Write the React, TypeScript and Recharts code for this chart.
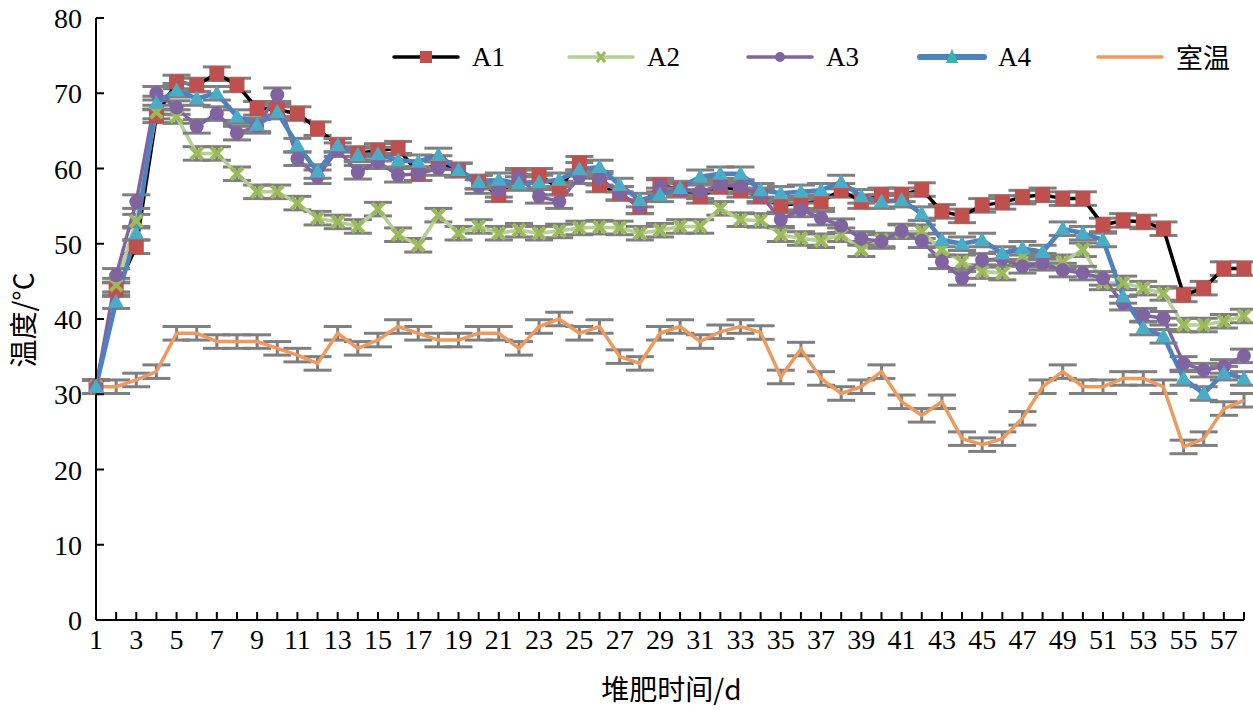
import React from "react";
import { LineChart, Line, XAxis, YAxis, ErrorBar } from "recharts";

// composting days
const days = Array.from({ length: 58 }, (_, i) => i + 1);

const a1 = [
  31, 43.9, 49.6, 67, 71.5, 71.1, 72.6, 71.1, 68, 67.8, 67.3, 65.3, 63.1, 62, 62.4, 62.7, 59.3, 60.8, 59.8, 58.2,
  56.5, 59.1, 59.1, 57.4, 60.7, 57.8, 56.7, 54.9, 57.8, 57.2, 56.3, 57.6, 57.1, 56.3, 55.1, 55.4, 55.6, 57.1, 55.6, 56.5,
  56.5, 57.2, 54.3, 53.7, 55.1, 55.5, 56.2, 56.5, 56.0, 56.0, 52.5, 53.1, 52.9, 52.0, 43.2, 44.1, 46.7, 46.7,
];
const a2 = [
  31, 44.5, 53, 67.5, 66.9, 62, 62, 59.3, 56.9, 56.9, 55.4, 53.4, 52.9, 52.3, 54.6, 51.2, 49.8, 53.8, 51.4, 52.3,
  51.4, 51.8, 51.4, 51.7, 52.1, 52.2, 52.1, 51.4, 51.8, 52.3, 52.3, 54.7, 53.2, 53.1, 51.2, 50.7, 50.4, 51.2, 49.2, 50.5,
  51.6, 51.6, 49.2, 47.6, 46.3, 46.1, 48.3, 47.8, 47.6, 49.2, 44.8, 44.8, 44.1, 43.4, 39.2, 39.2, 39.7, 40.4,
];
const a3 = [
  31, 45.8, 55.6, 70, 68.1, 65.6, 67.3, 64.7, 65.6, 69.8, 61.3, 58.9, 62.5, 59.5, 60.9, 59.1, 59.3, 60, 59.8, 57.6,
  57.1, 58.9, 56.3, 55.6, 58.9, 58.7, 56.7, 54.9, 57.6, 57.1, 56.9, 57.8, 57.6, 56.5, 53.2, 54.5, 53.4, 52.4, 50.7, 50.3,
  51.7, 50.4, 47.6, 45.4, 47.8, 48, 47, 47.4, 46.5, 46.1, 45.4, 42.1, 40.5, 40.1, 34.1, 33.2, 33.7, 35.1,
];
const a4 = [
  31, 42.3, 51.4, 68.7, 70.4, 69.3, 70, 66.9, 65.8, 67.5, 63.1, 59.6, 63.1, 61.8, 61.9, 61.1, 60.9, 61.8, 59.8, 58.2,
  58.5, 58, 58.2, 58.5, 59.9, 60.2, 57.8, 55.8, 56.5, 57.4, 58.9, 59.3, 59.3, 57.1, 56.7, 56.9, 57.1, 58.2, 56.3, 55.6,
  55.8, 54, 50.5, 50, 50.5, 48.7, 49.4, 48.9, 52, 51.4, 50.5, 43, 38.8, 37.7, 32.1, 30.1, 32.8, 32.1,
];
const room = [
  31, 31, 31.9, 33, 38.1, 38.1, 37, 37, 37, 36.1, 35.2, 34.1, 38.1, 36.1, 37.2, 39, 38.1, 37.2, 37.2, 38.1,
  38.1, 36.1, 39, 40, 38.1, 39, 35, 34.1, 38.1, 39, 37, 38.3, 39, 38.2, 32.3, 36, 32.1, 30.1, 31, 33,
  29, 27.2, 29, 24.1, 23.3, 24.1, 26.8, 31, 33, 31, 31, 32.1, 32.1, 31, 23, 24.1, 28.1, 29.2,
];
const ERR = 0.9;

const yTicks = [0, 10, 20, 30, 40, 50, 60, 70, 80];

const data = days.map((d, i) => ({
  day: d,
  A1: a1[i],
  A2: a2[i],
  A3: a3[i],
  A4: a4[i],
  room: room[i],
  err: ERR,
}));

const SERIF = "'Liberation Serif', 'Times New Roman', 'Noto Sans CJK SC', serif";
const CJK = "'Noto Sans CJK SC', 'Liberation Serif', serif";

const XTick = ({ x, y, payload }: any) => (
  <g>
    <line x1={x} y1={y} x2={x} y2={y - 8} stroke="#000" strokeWidth={2} />
    {payload.value % 2 === 1 && (
      <text x={x} y={y + 29} textAnchor="middle" fontSize={28} fontFamily={SERIF} fill="#000">
        {payload.value}
      </text>
    )}
  </g>
);

const YTick = ({ x, y, payload }: any) => (
  <g>
    <line x1={x} y1={y} x2={x + 8} y2={y} stroke="#000" strokeWidth={2} />
    <text x={x - 14} y={y + 10} textAnchor="end" fontSize={28} fontFamily={SERIF} fill="#000">
      {payload.value}
    </text>
  </g>
);

const squareDot = (p: any) => (
  <rect key={`s-${p.index}`} x={p.cx - 7.5} y={p.cy - 7.5} width={15} height={15} fill="#C0504D" />
);
const crossDot = (p: any) => (
  <path
    key={`x-${p.index}`}
    d={`M${p.cx - 6},${p.cy - 6}L${p.cx + 6},${p.cy + 6}M${p.cx - 6},${p.cy + 6}L${p.cx + 6},${p.cy - 6}`}
    stroke="#9BBB59"
    strokeWidth={4}
  />
);
const circleDot = (p: any) => <circle key={`c-${p.index}`} cx={p.cx} cy={p.cy} r={7} fill="#8064A2" />;
const triangleDot = (p: any) => (
  <path
    key={`t-${p.index}`}
    d={`M${p.cx},${p.cy - 8}L${p.cx + 8},${p.cy + 6}L${p.cx - 8},${p.cy + 6}Z`}
    fill="#4BACC6"
  />
);

const legendItems = [
  { label: "A1", left: 391, line: "#000", width: 3.5, marker: "square" },
  { label: "A2", left: 566, line: "#B5CF96", width: 3.5, marker: "cross" },
  { label: "A3", left: 745, line: "#8064A2", width: 3.5, marker: "circle" },
  { label: "A4", left: 917, line: "#4F81BD", width: 6, marker: "triangle" },
  { label: "室温", left: 1095, line: "#EE9A5E", width: 3.5, marker: "none" },
];

const LegendBox = () => (
  <div style={{ position: "absolute", left: 0, top: 42, width: 1253, height: 32 }}>
    {legendItems.map((it) => (
      <div key={it.label} style={{ position: "absolute", left: it.left, top: 0, display: "flex", alignItems: "center" }}>
        <svg width={70} height={30}>
          <line x1={3} y1={15} x2={67} y2={15} stroke={it.line} strokeWidth={it.width} strokeLinecap="round" />
          {it.marker === "square" && <rect x={29} y={9} width={12} height={12} fill="#C0504D" />}
          {it.marker === "cross" && <path d="M31,10L39,20M31,20L39,10" stroke="#9BBB59" strokeWidth={3} />}
          {it.marker === "circle" && <circle cx={35} cy={15} r={5} fill="#8064A2" />}
          {it.marker === "triangle" && <path d="M35,7L41,21L29,21Z" fill="#36B5AE" />}
        </svg>
        <span
          style={{
            marginLeft: 11,
            fontSize: 27,
            fontFamily: it.label === "室温" ? CJK : SERIF,
            color: "#000",
            lineHeight: "30px",
          }}
        >
          {it.label}
        </span>
      </div>
    ))}
  </div>
);

const errProps = {
  dataKey: "err",
  width: 14,
  stroke: "#7F7F7F",
  strokeWidth: 3,
  direction: "y" as const,
  isAnimationActive: false,
};

export default function App() {
  return (
    <div style={{ position: "absolute", left: 0, top: 0, width: 1253, height: 710, background: "#fff" }}>
      <LineChart width={1253} height={710} data={data} margin={{ top: 18, right: 9, bottom: 30, left: 36 }}>
        <XAxis
          dataKey="day"
          type="number"
          domain={[1, 58]}
          ticks={days}
          interval={0}
          height={60}
          tickSize={0}
          tickMargin={0}
          tickLine={false}
          axisLine={{ stroke: "#000", strokeWidth: 2 }}
          tick={<XTick />}
        />
        <YAxis
          domain={[0, 80]}
          ticks={yTicks}
          interval={0}
          width={60}
          tickSize={0}
          tickMargin={0}
          tickLine={false}
          axisLine={{ stroke: "#000", strokeWidth: 2 }}
          tick={<YTick />}
        />
        <Line dataKey="A1" name="A1" stroke="#000" strokeWidth={3.5} dot={squareDot} activeDot={false} isAnimationActive={false}>
          <ErrorBar {...errProps} />
        </Line>
        <Line dataKey="A2" name="A2" stroke="#B5CF96" strokeWidth={3.5} dot={crossDot} activeDot={false} isAnimationActive={false}>
          <ErrorBar {...errProps} />
        </Line>
        <Line dataKey="A3" name="A3" stroke="#8064A2" strokeWidth={3.5} dot={circleDot} activeDot={false} isAnimationActive={false}>
          <ErrorBar {...errProps} />
        </Line>
        <Line dataKey="A4" name="A4" stroke="#4F81BD" strokeWidth={4.5} dot={triangleDot} activeDot={false} isAnimationActive={false}>
          <ErrorBar {...errProps} />
        </Line>
        <Line dataKey="room" name="室温" stroke="#EE9A5E" strokeWidth={3.5} dot={false} activeDot={false} isAnimationActive={false}>
          <ErrorBar {...errProps} />
        </Line>
      </LineChart>
      <LegendBox />
      <div
        style={{
          position: "absolute",
          left: 0,
          width: 1253,
          top: 668,
          textAlign: "center",
          paddingLeft: 90,
          boxSizing: "border-box",
          fontSize: 28,
          fontFamily: CJK,
          lineHeight: "40px",
        }}
      >
        堆肥时间/d
      </div>
      <div
        style={{
          position: "absolute",
          left: 22,
          top: 320,
          transform: "translate(-50%, -50%) rotate(-90deg)",
          whiteSpace: "nowrap",
          fontSize: 28,
          fontFamily: CJK,
          lineHeight: "36px",
        }}
      >
        温度/°C
      </div>
    </div>
  );
}
